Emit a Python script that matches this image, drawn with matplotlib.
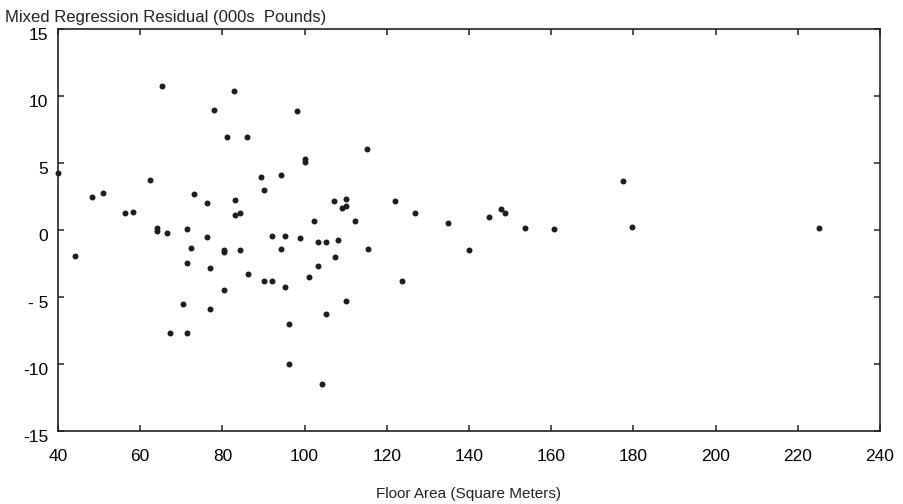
import matplotlib
matplotlib.use("Agg")
import matplotlib.pyplot as plt
import matplotlib.transforms as mtrans

plt.rcParams['font.family'] = ['Liberation Sans', 'DejaVu Sans']

# floor area (m2) and residual (000s pounds)
area = [40.1, 44.2, 48.3, 51.0, 56.4, 58.2, 62.3, 64.2, 64.2, 65.4,
        66.4, 67.3, 70.4, 71.3, 71.3, 71.3, 72.3, 73.1, 76.3, 76.3,
        77.1, 77.1, 78.0, 80.3, 80.3, 80.3, 81.2, 82.9, 83.0, 83.0,
        84.4, 84.4, 86.1, 86.2, 89.3, 90.2, 90.2, 92.1, 92.1, 94.3,
        94.3, 95.2, 95.2, 96.1, 96.1, 98.2, 99.0, 100.1, 100.1, 101.0,
        102.4, 103.3, 103.3, 104.2, 105.1, 105.1, 107.2, 107.3, 108.2, 109.0,
        110.0, 110.0, 110.0, 112.2, 115.3, 115.4, 122.0, 123.8, 126.9, 135.0,
        139.9, 144.8, 147.9, 148.8, 153.7, 160.8, 177.4, 179.7, 225.1]
resid = [4.28, -1.94, 2.48, 2.75, 1.24, 1.36, 3.74, 0.15, -0.05, 10.75,
         -0.25, -7.71, -5.5, 0.05, -2.45, -7.71, -1.34, 2.65, 1.98, -0.52,
         -2.85, -5.9, 8.97, -1.47, -1.61, -4.51, 6.94, 10.38, 2.25, 1.14,
         1.29, -1.47, 6.94, -3.25, 3.96, 2.97, -3.82, -0.47, -3.82, 4.11,
         -1.44, -0.47, -4.22, -6.99, -10.0, 8.87, -0.6, 5.32, 5.05, -3.52,
         0.64, -0.87, -2.65, -11.52, -0.87, -6.27, 2.18, -1.99, -0.74, 1.61,
         2.33, 1.76, -5.31, 0.64, 6.04, -1.41, 2.18, -3.77, 1.24, 0.54,
         -1.49, 0.99, 1.53, 1.29, 0.17, 0.04, 3.69, 0.22, 0.17]

xticks = [40, 60, 80, 100, 120, 140, 160, 180, 200, 220, 240]
yticks = [-15, -10, -5, 0, 5, 10, 15]
ylabels = ['-15', '-10', '- 5', '0', '5', '10', '15']

fig = plt.figure(figsize=(9.04, 5.04), dpi=100)
ax = fig.add_axes([58/904, 1-431/504, 822/904, 402/504])

ax.plot(area, resid, 'o', color='#1e1e1e', markersize=4.3, markeredgewidth=0, clip_on=False)

ax.set_xlim(40, 240)
ax.set_ylim(-15, 15)
ax.set_xticks(xticks)
ax.set_yticks(yticks)
ax.set_yticklabels(ylabels)
ax.tick_params(direction='in', top=True, right=True, length=4.5, width=1.1,
               labelsize=12.5, color='#222')
ax.tick_params(axis='x', pad=13)
ax.tick_params(axis='y', pad=7)
for s in ax.spines.values():
    s.set_linewidth(1.2)
    s.set_color('#222')

# y labels sit a little below their ticks in the original
shift = mtrans.ScaledTranslation(0, -5/100, fig.dpi_scale_trans)
for lab in ax.get_yticklabels():
    lab.set_transform(lab.get_transform() + shift)

fig.text(5/904, 1-22/504, "Mixed Regression Residual (000s  Pounds)", fontsize=12,
         va='baseline', ha='left', color='#222')
fig.text(469/904, 1-494/504, "Floor Area (Square Meters)", fontsize=11,
         va='center', ha='center', color='#222')

fig.savefig("out.png", dpi=100)
